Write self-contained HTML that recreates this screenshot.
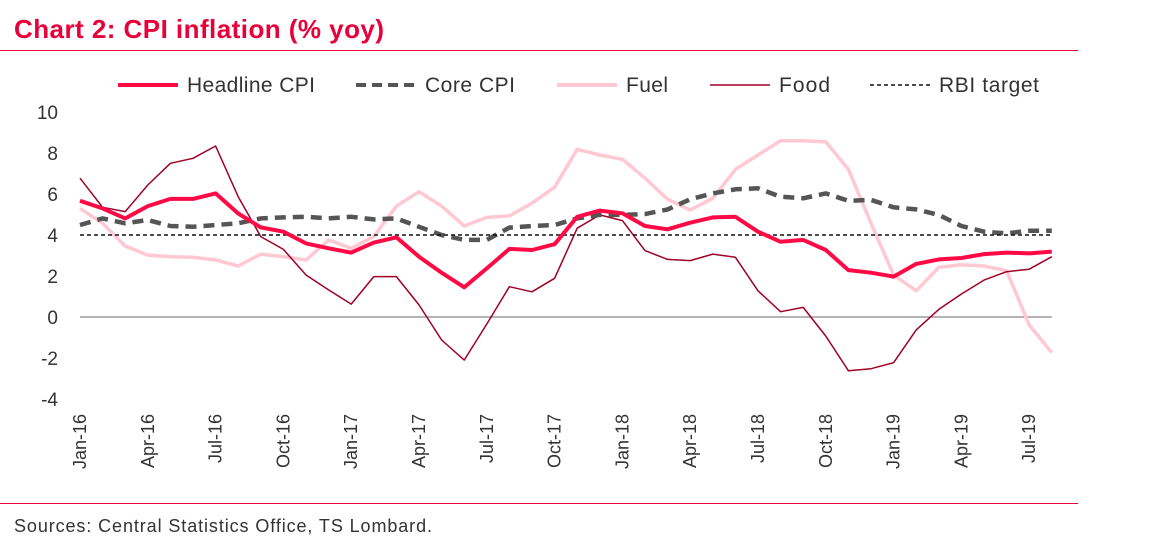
<!DOCTYPE html>
<html><head><meta charset="utf-8"><style>
body{margin:0;background:#fff;font-family:"Liberation Sans",sans-serif;}
#wrap{position:relative;width:1162px;height:545px;overflow:hidden;}
</style></head><body>
<div id="wrap">
<svg id="chart" width="1162" height="545">
<text x="14" y="38" font-size="26" font-weight="bold" fill="#e8003a" textLength="370">Chart 2: CPI inflation (% yoy)</text>
<line x1="0" y1="50.5" x2="1078" y2="50.5" stroke="#e8003a" stroke-width="1"/>
<line x1="0" y1="503.5" x2="1078" y2="503.5" stroke="#e8003a" stroke-width="1"/>
<text x="14" y="532" font-size="18" fill="#333" textLength="418">Sources: Central Statistics Office, TS Lombard.</text>
<g id="legend">
<line x1="118" y1="85" x2="178" y2="85" stroke="#ff0a45" stroke-width="4"/>
<text x="187" y="92" font-size="21" fill="#333" textLength="128">Headline CPI</text>
<line x1="356" y1="85" x2="416" y2="85" stroke="#555" stroke-width="4" stroke-dasharray="10,6"/>
<text x="425" y="92" font-size="21" fill="#333" textLength="90">Core CPI</text>
<line x1="557" y1="85" x2="617" y2="85" stroke="#ffc8d3" stroke-width="4"/>
<text x="626" y="92" font-size="21" fill="#333" textLength="42">Fuel</text>
<line x1="710" y1="85" x2="770" y2="85" stroke="#a00028" stroke-width="1.5"/>
<text x="779" y="92" font-size="21" fill="#333" textLength="51">Food</text>
<line x1="870" y1="85" x2="930" y2="85" stroke="#111" stroke-width="1.5" stroke-dasharray="4,3"/>
<text x="939" y="92" font-size="21" fill="#333" textLength="100">RBI target</text>
</g>
</svg>
</div>
<script>
const months=["Jan-16","Apr-16","Jul-16","Oct-16","Jan-17","Apr-17","Jul-17","Oct-17","Jan-18","Apr-18","Jul-18","Oct-18","Jan-19","Apr-19","Jul-19"];
const yTicks=[-4,-2,0,2,4,6,8,10];
const rbiTarget=4;
const headline=[5.67,5.30,4.81,5.41,5.76,5.76,6.03,5.05,4.37,4.16,3.59,3.35,3.14,3.63,3.89,2.94,2.16,1.45,2.37,3.32,3.27,3.55,4.89,5.19,5.06,4.44,4.28,4.6,4.86,4.89,4.16,3.67,3.76,3.27,2.29,2.16,1.97,2.59,2.81,2.88,3.07,3.14,3.1,3.19];
const core=[4.49,4.81,4.57,4.73,4.44,4.40,4.49,4.57,4.81,4.86,4.89,4.81,4.89,4.76,4.81,4.40,4.0,3.76,3.76,4.36,4.44,4.49,4.81,4.98,4.98,5.02,5.25,5.74,6.03,6.23,6.28,5.87,5.79,6.03,5.67,5.71,5.35,5.25,4.98,4.44,4.16,4.08,4.21,4.21];
const fuel=[5.30,4.57,3.46,3.02,2.94,2.91,2.78,2.49,3.07,2.94,2.78,3.76,3.35,3.92,5.41,6.11,5.41,4.44,4.86,4.93,5.55,6.33,8.18,7.9,7.69,6.77,5.74,5.22,5.79,7.2,7.9,8.6,8.6,8.54,7.2,4.57,2.05,1.28,2.42,2.55,2.49,2.26,-0.39,-1.74];
const food=[6.77,5.35,5.14,6.44,7.50,7.74,8.34,5.87,3.92,3.30,2.05,1.32,0.63,1.97,1.97,0.59,-1.12,-2.10,-0.34,1.48,1.23,1.89,4.33,4.98,4.7,3.24,2.81,2.75,3.07,2.91,1.28,0.26,0.47,-0.93,-2.62,-2.52,-2.23,-0.63,0.37,1.12,1.8,2.21,2.33,2.94];

const svg=document.getElementById('chart');
const NS='http://www.w3.org/2000/svg';
const X0=80,DX=22.6,Y0=317,DY=20.5;
const xs=i=>X0+i*DX;
const ys=v=>Y0-v*DY;
const n=headline.length;
function mk(tag,attrs){const e=document.createElementNS(NS,tag);for(const k in attrs)e.setAttribute(k,attrs[k]);svg.appendChild(e);return e;}

yTicks.forEach(v=>{
  const t=mk('text',{x:58,y:ys(v)+7,'font-size':19,fill:'#333','text-anchor':'end'});
  t.textContent=v;
  
  
});
months.forEach((m,k)=>{
  const x=xs(k*3);
  const t=mk('text',{x:0,y:0,'font-size':18,fill:'#333','text-anchor':'end',transform:`translate(${x+6},414) rotate(-90)`});
  t.textContent=m;
  
  
});
const zl=mk('line',{x1:X0,x2:xs(n-1),y1:ys(0),y2:ys(0),stroke:'#888','stroke-width':1.2});



function series(data,attrs,name){
  const d=data.map((v,i)=>(i?'L':'M')+xs(i).toFixed(1)+','+ys(v).toFixed(1)).join('');
  const p=mk('path',Object.assign({d:d,fill:'none','stroke-linejoin':'round'},attrs));
  
  
}
series(fuel,{stroke:'#ffc8d3','stroke-width':3.5},'fuel-line');
series(food,{stroke:'#a00028','stroke-width':1.5},'food-line');
series(core,{stroke:'#555','stroke-width':4.5,'stroke-dasharray':'11,7'},'core-cpi-line');
const rl=mk('line',{x1:X0,x2:xs(n-1),y1:ys(rbiTarget),y2:ys(rbiTarget),stroke:'#111','stroke-width':1.5,'stroke-dasharray':'4,3'});


series(headline,{stroke:'#ff0a45','stroke-width':4},'headline-cpi-line');
</script>
</body></html>
